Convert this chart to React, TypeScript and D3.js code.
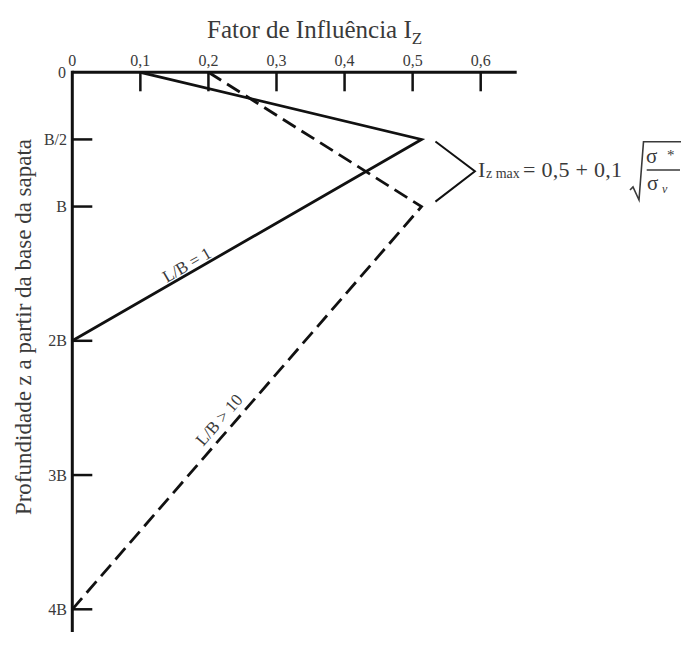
import React from "react";
import * as d3 from "d3";

// Influence factor Iz vs depth below footing base (Schmertmann diagram)
const izTicks = [0, 0.1, 0.2, 0.3, 0.4, 0.5, 0.6];
const izTickLabels = ["0", "0,1", "0,2", "0,3", "0,4", "0,5", "0,6"];

const depthTicks = [0.5, 1, 2, 3, 4];
const depthTickLabels = ["B/2", "B", "2B", "3B", "4B"];

// Square footing, L/B = 1 (depth in multiples of B)
const squareDepth = [0, 0.5, 2];
const squareIz = [0.1, 0.513, 0];

// Strip footing, L/B > 10
const stripDepth = [0, 1, 4];
const stripIz = [0.2, 0.513, 0];

const W = 681;
const H = 658;
const ink = "#111";
const textInk = "#3a3a3a";
const serif = "'Liberation Serif', 'Times New Roman', serif";

export default function App() {
  const x = d3.scaleLinear().domain([0, 0.6]).range([72.3, 480.7]);
  const y = d3.scaleLinear().domain([0, 4]).range([72.3, 609.3]);

  const line = d3
    .line<[number, number]>()
    .x((d) => x(d[0]))
    .y((d) => y(d[1]));

  const squarePts = squareIz.map((v, i) => [v, squareDepth[i]] as [number, number]);
  const stripPts = stripIz.map((v, i) => [v, stripDepth[i]] as [number, number]);

  // screen angle of the lower segment of each curve, for the rotated labels
  const segAngle = (pts: [number, number][]) => {
    const a = pts[1];
    const b = pts[2];
    return (Math.atan2(y(a[1]) - y(b[1]), x(a[0]) - x(b[0])) * 180) / Math.PI;
  };

  const xAxisEnd = 516.7;
  const yAxisEnd = 632;

  return (
    <svg
      width={W}
      height={H}
      style={{ position: "absolute", left: 0, top: 0, background: "#fff" }}
      fontFamily={serif}
    >
      {/* title */}
      <text x={207} y={38} fontSize={25} fill={textInk}>
        Fator de Influência I
        <tspan fontSize={17} dy={6}>Z</tspan>
      </text>

      {/* y axis title */}
      <text
        transform={`translate(31, 327) rotate(-90)`}
        textAnchor="middle"
        fontSize={23}
        fill={textInk}
      >
        Profundidade z a partir da base da sapata
      </text>

      {/* top axis */}
      <line x1={x(0)} y1={y(0)} x2={xAxisEnd} y2={y(0)} stroke={ink} strokeWidth={3} />
      {izTicks.map((t, i) => (
        <g key={"xt" + i}>
          {i > 0 && (
            <line x1={x(t)} y1={y(0)} x2={x(t)} y2={y(0) + 19} stroke={ink} strokeWidth={2.5} />
          )}
          <text x={x(t)} y={66} textAnchor="middle" fontSize={16} fill={textInk}>
            {izTickLabels[i]}
          </text>
        </g>
      ))}

      {/* left axis */}
      <line x1={x(0)} y1={y(0) - 1.5} x2={x(0)} y2={yAxisEnd} stroke={ink} strokeWidth={3} />
      <text x={66} y={y(0)} textAnchor="end" dominantBaseline="central" fontSize={16} fill={textInk}>
        0
      </text>
      {depthTicks.map((t, i) => (
        <g key={"yt" + i}>
          <line x1={x(0)} y1={y(t)} x2={x(0) + 20} y2={y(t)} stroke={ink} strokeWidth={2.5} />
          <text
            x={67}
            y={y(t)}
            textAnchor="end"
            dominantBaseline="central"
            fontSize={16}
            fill={textInk}
          >
            {depthTickLabels[i]}
          </text>
        </g>
      ))}

      {/* curves */}
      <path d={line(squarePts) ?? ""} fill="none" stroke={ink} strokeWidth={2.8} />
      <path
        d={line(stripPts) ?? ""}
        fill="none"
        stroke={ink}
        strokeWidth={2.8}
        strokeDasharray="15 7"
      />

      {/* curve labels */}
      <text
        transform={`translate(${x(0.1685)}, ${y(1.435)}) rotate(${segAngle(squarePts)})`}
        textAnchor="middle"
        dominantBaseline="central"
        fontSize={17}
        fill={textInk}
      >
        L/B = 1
      </text>
      <text
        transform={`translate(${x(0.216)}, ${y(2.59)}) rotate(${segAngle(stripPts)})`}
        textAnchor="middle"
        dominantBaseline="central"
        fontSize={17}
        fill={textInk}
      >
        L/B &gt; 10
      </text>

      {/* bracket pointing to the peak formula */}
      <polyline
        points={`${x(0.5335)},${y(0.515)} ${x(0.5915)},${y(0.737)} ${x(0.5335)},${y(0.963)}`}
        fill="none"
        stroke={ink}
        strokeWidth={2}
        strokeLinejoin="miter"
      />

      {/* Iz max formula */}
      <text x={478} y={177} fontSize={22} fill={textInk}>
        I
      </text>
      <text x={486} y={178} fontSize={14} fill={textInk}>
        z max
      </text>
      <text x={523} y={177} fontSize={22} fill={textInk} textLength={99} lengthAdjust="spacing">
        = 0,5 + 0,1
      </text>
      <polyline
        points="630,190 633,187 639,200 643.5,141.7 681,141.7"
        fill="none"
        stroke={textInk}
        strokeWidth={1.6}
      />
      <text x={646} y={163} fontSize={21} fill={textInk}>
        σ
      </text>
      <text x={667} y={160} fontSize={15} fill={textInk}>
        *
      </text>
      <line x1={646.7} y1={170} x2={680} y2={170} stroke={textInk} strokeWidth={1.5} />
      <text x={647} y={190} fontSize={21} fill={textInk}>
        σ
      </text>
      <text x={662} y={193} fontSize={12} fontStyle="italic" fill={textInk}>
        v
      </text>
    </svg>
  );
}
